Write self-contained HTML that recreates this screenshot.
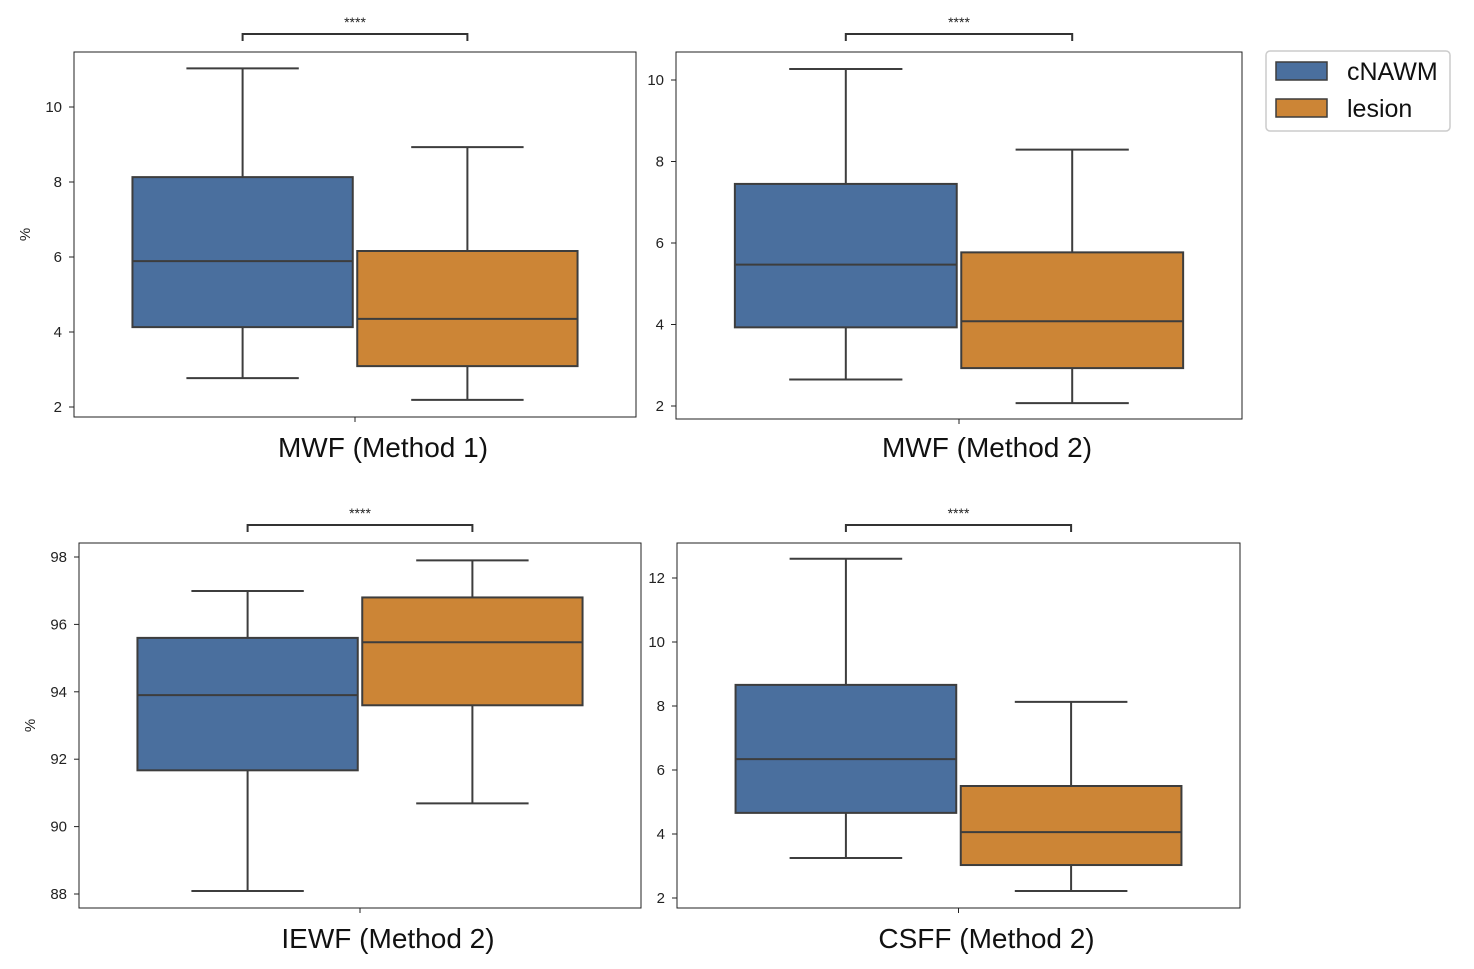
<!DOCTYPE html>
<html><head><meta charset="utf-8">
<style>
html,body{margin:0;padding:0;background:#fff;}
svg{display:block;font-family:"Liberation Sans",sans-serif;}
</style></head>
<body>
<svg id="chart" width="1474" height="969" viewBox="0 0 1474 969"></svg>
<script>
// ---- data ----
const groups = ["cNAWM", "lesion"];
const panelTitles = ["MWF (Method 1)", "MWF (Method 2)", "IEWF (Method 2)", "CSFF (Method 2)"];
const sigLabels = ["****", "****", "****", "****"];
const p1Low = [2.77, 2.19], p1Q1 = [4.13, 3.09], p1Med = [5.89, 4.35], p1Q3 = [8.13, 6.16], p1High = [11.03, 8.93];
const p2Low = [2.65, 2.07], p2Q1 = [3.93, 2.93], p2Med = [5.47, 4.08], p2Q3 = [7.45, 5.77], p2High = [10.27, 8.29];
const p3Low = [88.09, 90.69], p3Q1 = [91.67, 93.6], p3Med = [93.9, 95.47], p3Q3 = [95.6, 96.8], p3High = [96.99, 97.9];
const p4Low = [3.25, 2.22], p4Q1 = [4.66, 3.03], p4Med = [6.34, 4.06], p4Q3 = [8.66, 5.5], p4High = [12.6, 8.13];
const p1Ticks = [2, 4, 6, 8, 10];
const p2Ticks = [2, 4, 6, 8, 10];
const p3Ticks = [88, 90, 92, 94, 96, 98];
const p4Ticks = [2, 4, 6, 8, 10, 12];

// ---- layout (pixel geometry, not data) ----
const layouts = [
  {x0:74, x1:636, y0:52, y1:417, vA:2, pA:407, vB:10, pB:107, ylab:true, yl:25, ty:447},
  {x0:676, x1:1242, y0:52, y1:419, vA:2, pA:406, vB:10, pB:80, ylab:false, ty:447},
  {x0:79, x1:641, y0:543, y1:908, vA:88, pA:894, vB:98, pB:557, ylab:true, yl:30, ty:938},
  {x0:677, x1:1240, y0:543, y1:908, vA:2, pA:898, vB:12, pB:578, ylab:false, ty:938}
];
const dataSets = [
  [p1Low,p1Q1,p1Med,p1Q3,p1High,p1Ticks],
  [p2Low,p2Q1,p2Med,p2Q3,p2High,p2Ticks],
  [p3Low,p3Q1,p3Med,p3Q3,p3High,p3Ticks],
  [p4Low,p4Q1,p4Med,p4Q3,p4High,p4Ticks]
];
const colors = ["#4a6f9e", "#cc8536"];
const LC = "#3d3d3d";
const NS = "http://www.w3.org/2000/svg";
const svg = document.getElementById("chart");
function mk(tag, attrs, parent, text){
  const e = document.createElementNS(NS, tag);
  for (const k in attrs) e.setAttribute(k, attrs[k]);
  if (text !== undefined) e.textContent = text;
  (parent||svg).appendChild(e);
  return e;
}

layouts.forEach((L, pi) => {
  const [lo,q1,med,q3,hi,ticks] = dataSets[pi];
  const g = mk("g", {});
  
  
  const y = v => L.pA + (v - L.vA) * (L.pB - L.pA) / (L.vB - L.vA);
  const w = L.x1 - L.x0;
  const band = w * 0.4;
  const xc = i => L.x0 + w/2 + (i - 0.5) * band;
  const boxW = band * 0.98;
  const capW = band * 0.5;

  const fr = mk("rect", {x:L.x0, y:L.y0, width:w, height:L.y1-L.y0, fill:"none", stroke:"#222", "stroke-width":1}, g);
  
  

  ticks.forEach(t => {
    const ty = y(t);
    const tl = mk("line", {x1:L.x0-5, x2:L.x0, y1:ty, y2:ty, stroke:"#222", "stroke-width":1}, g);
    
    
    const tt = mk("text", {x:L.x0-12, y:ty+5, "text-anchor":"end", "font-size":15, fill:"#222"}, g, String(t));
    
    
  });
  const xm = L.x0 + w/2;
  mk("line", {x1:xm, x2:xm, y1:L.y1, y2:L.y1+5, stroke:"#222"}, g);
  const xl = mk("text", {x:xm+28, y:L.ty+10, "text-anchor":"middle", "font-size":28, fill:"#111"}, g, panelTitles[pi]);
  
  
  if (L.ylab) {
    const yt = mk("text", {x:0, y:0, transform:`translate(${L.yl+5},${(L.y0+L.y1)/2}) rotate(-90)`, "text-anchor":"middle", "font-size":15, fill:"#222"}, g, "%");
    
    
  }

  groups.forEach((grp, i) => {
    const cx = xc(i);
    const bg = mk("g", {}, g);
    
    
    mk("line", {x1:cx, x2:cx, y1:y(hi[i]), y2:y(q3[i]), stroke:LC, "stroke-width":2}, bg);
    mk("line", {x1:cx, x2:cx, y1:y(q1[i]), y2:y(lo[i]), stroke:LC, "stroke-width":2}, bg);
    mk("line", {x1:cx-capW/2, x2:cx+capW/2, y1:y(hi[i]), y2:y(hi[i]), stroke:LC, "stroke-width":2}, bg);
    mk("line", {x1:cx-capW/2, x2:cx+capW/2, y1:y(lo[i]), y2:y(lo[i]), stroke:LC, "stroke-width":2}, bg);
    mk("rect", {x:cx-boxW/2, y:y(q3[i]), width:boxW, height:y(q1[i])-y(q3[i]), fill:colors[i], stroke:LC, "stroke-width":2}, bg);
    mk("line", {x1:cx-boxW/2, x2:cx+boxW/2, y1:y(med[i]), y2:y(med[i]), stroke:LC, "stroke-width":2}, bg);
  });

  const by = L.y0 - 18;
  const br = mk("path", {d:`M${xc(0)},${by+7} L${xc(0)},${by} L${xc(1)},${by} L${xc(1)},${by+7}`, fill:"none", stroke:"#333", "stroke-width":2}, g);
  
  
  const st = mk("text", {x:xm, y:by-7, "text-anchor":"middle", "font-size":14, fill:"#222"}, g, sigLabels[pi]);
  
  
});

const lg = mk("g", {});


mk("rect", {x:1266, y:51, width:184, height:80, rx:4, fill:"#fff", stroke:"#ccc", "stroke-width":1.5}, lg);
groups.forEach((grp, i) => {
  const ey = 62 + i*37;
  const le = mk("g", {}, lg);
  
  
  mk("rect", {x:1276, y:ey, width:51, height:18, fill:colors[i], stroke:LC, "stroke-width":1.5}, le);
  mk("text", {x:1347, y:ey+18, "font-size":25, fill:"#111"}, le, grp);
});
</script>
</body></html>
